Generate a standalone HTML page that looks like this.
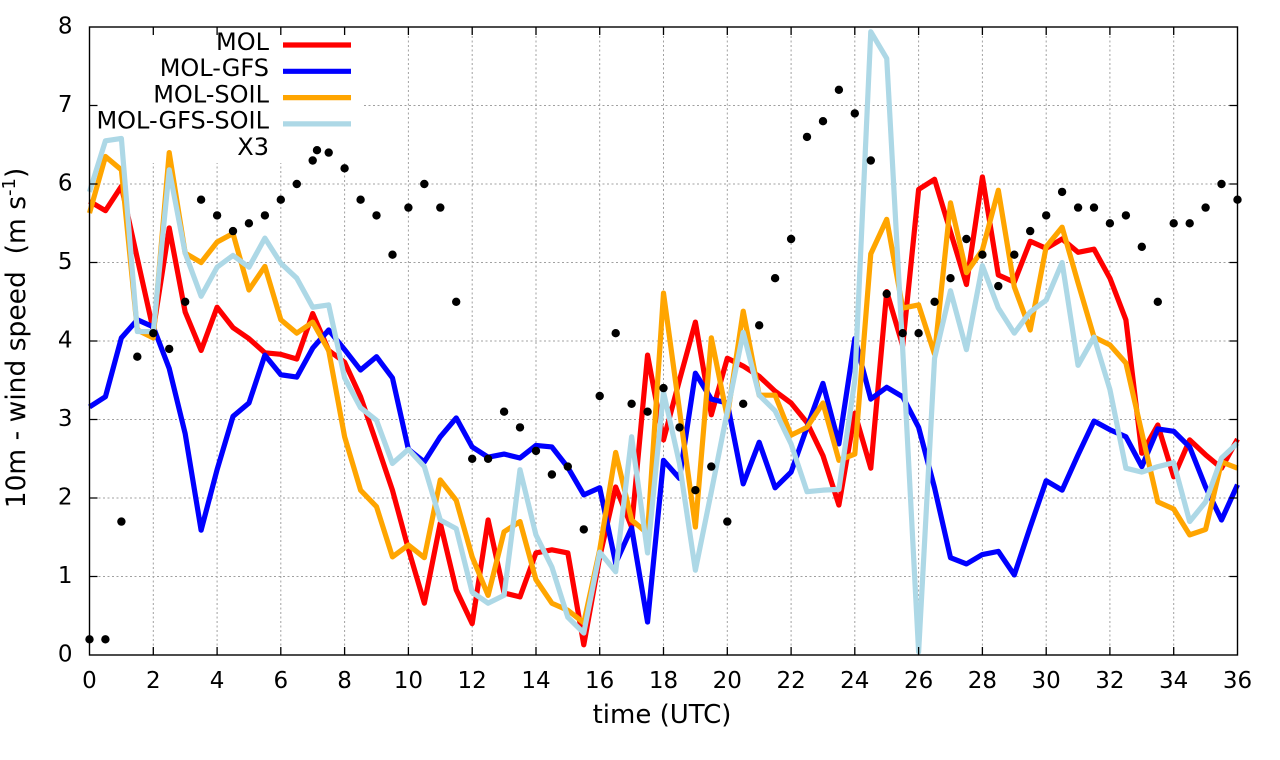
<!DOCTYPE html>
<html>
<head>
<meta charset="utf-8">
<style>
  html, body { margin: 0; padding: 0; background: #ffffff; }
  svg { display: block; }
  text { font-family: "DejaVu Sans", "Liberation Sans", sans-serif; fill: #000; }
</style>
</head>
<body>
<svg width="1280" height="760" viewBox="0 0 1280 760" xmlns="http://www.w3.org/2000/svg">
<rect x="0" y="0" width="1280" height="760" fill="#ffffff"/>
<path fill="none" stroke="#a0a0a0" stroke-width="1" stroke-dasharray="2,2.5" d="M89.5 576.5H1237.5M89.5 498H1237.5M89.5 419.5H1237.5M89.5 341H1237.5M89.5 262.5H1237.5M89.5 184H1237.5M89.5 105.5H1237.5M153.3 27V655M217.1 27V655M280.8 27V655M344.6 27V655M408.4 27V655M472.2 27V655M536 27V655M599.7 27V655M663.5 27V655M727.3 27V655M791.1 27V655M854.8 27V655M918.6 27V655M982.4 27V655M1046.2 27V655M1109.9 27V655M1173.7 27V655"/>
<rect x="91" y="28" width="271" height="135" fill="#ffffff"/>
<g transform="translate(89.5,655) scale(31.889,-78.5)" fill="none" stroke-linejoin="round">
<polyline vector-effect="non-scaling-stroke" stroke="#ff0000" stroke-width="5.2" points="0,5.78 0.5,5.66 1,5.97 1.5,5.05 2,4.14 2.5,5.44 3,4.37 3.5,3.88 4,4.43 4.5,4.17 5,4.03 5.5,3.85 6,3.83 6.5,3.77 7,4.35 7.5,3.88 8,3.73 8.5,3.29 9,2.7 9.5,2.1 10,1.35 10.5,0.66 11,1.68 11.5,0.83 12,0.4 12.5,1.72 13,0.79 13.5,0.74 14,1.3 14.5,1.34 15,1.3 15.5,0.13 16,1.25 16.5,2.14 17,1.63 17.5,3.82 18,2.74 18.5,3.5 19,4.24 19.5,3.06 20,3.78 20.5,3.68 21,3.55 21.5,3.36 22,3.21 22.5,2.96 23,2.54 23.5,1.91 24,3.08 24.5,2.38 25,4.63 25.5,3.94 26,5.93 26.5,6.06 27,5.39 27.5,4.72 28,6.09 28.5,4.84 29,4.75 29.5,5.27 30,5.18 30.5,5.3 31,5.13 31.5,5.17 32,4.8 32.5,4.27 33,2.57 33.5,2.93 34,2.27 34.5,2.74 35,2.55 35.5,2.38 36,2.75"/>
<polyline vector-effect="non-scaling-stroke" stroke="#0000ff" stroke-width="5.2" points="0,3.16 0.5,3.29 1,4.04 1.5,4.27 2,4.18 2.5,3.65 3,2.82 3.5,1.59 4,2.36 4.5,3.04 5,3.21 5.5,3.82 6,3.57 6.5,3.54 7,3.91 7.5,4.14 8,3.89 8.5,3.63 9,3.8 9.5,3.53 10,2.62 10.5,2.46 11,2.78 11.5,3.02 12,2.65 12.5,2.52 13,2.56 13.5,2.51 14,2.67 14.5,2.65 15,2.39 15.5,2.04 16,2.13 16.5,1.17 17,1.62 17.5,0.42 18,2.48 18.5,2.25 19,3.59 19.5,3.26 20,3.21 20.5,2.18 21,2.71 21.5,2.13 22,2.33 22.5,2.9 23,3.46 23.5,2.69 24,4.03 24.5,3.26 25,3.41 25.5,3.29 26,2.9 26.5,2.13 27,1.24 27.5,1.16 28,1.28 28.5,1.32 29,1.02 29.5,1.63 30,2.22 30.5,2.1 31,2.55 31.5,2.98 32,2.87 32.5,2.78 33,2.4 33.5,2.88 34,2.85 34.5,2.65 35,2.14 35.5,1.72 36,2.17"/>
<polyline vector-effect="non-scaling-stroke" stroke="#ffa500" stroke-width="5.2" points="0,5.63 0.5,6.35 1,6.18 1.5,4.14 2,4.04 2.5,6.4 3,5.12 3.5,5.0 4,5.26 4.5,5.37 5,4.65 5.5,4.95 6,4.27 6.5,4.1 7,4.24 7.5,3.88 8,2.78 8.5,2.1 9,1.89 9.5,1.25 10,1.4 10.5,1.24 11,2.23 11.5,1.97 12,1.25 12.5,0.76 13,1.57 13.5,1.7 14,0.96 14.5,0.66 15,0.57 15.5,0.41 16,1.34 16.5,2.58 17,1.72 17.5,1.55 18,4.61 18.5,3.12 19,1.63 19.5,4.04 20,3.03 20.5,4.38 21,3.31 21.5,3.31 22,2.8 22.5,2.9 23,3.21 23.5,2.48 24,2.56 24.5,5.11 25,5.55 25.5,4.42 26,4.46 26.5,3.83 27,5.76 27.5,4.87 28,5.16 28.5,5.92 29,4.69 29.5,4.14 30,5.2 30.5,5.45 31,4.74 31.5,4.05 32,3.95 32.5,3.72 33,2.83 33.5,1.95 34,1.86 34.5,1.53 35,1.6 35.5,2.46 36,2.38"/>
<polyline vector-effect="non-scaling-stroke" stroke="#add8e6" stroke-width="5.2" points="0,5.9 0.5,6.55 1,6.58 1.5,4.12 2,4.12 2.5,6.18 3,5.12 3.5,4.57 4,4.94 4.5,5.09 5,4.94 5.5,5.31 6,4.99 6.5,4.8 7,4.43 7.5,4.46 8,3.53 8.5,3.15 9,2.99 9.5,2.44 10,2.62 10.5,2.4 11,1.72 11.5,1.61 12,0.8 12.5,0.66 13,0.76 13.5,2.36 14,1.53 14.5,1.12 15,0.48 15.5,0.28 16,1.31 16.5,1.06 17,2.78 17.5,1.3 18,3.35 18.5,2.44 19,1.08 19.5,2.08 20,3.1 20.5,4.11 21,3.31 21.5,3.11 22,2.69 22.5,2.08 23,2.1 23.5,2.11 24,3.5 24.5,7.94 25,7.6 25.5,3.9 26,0.04 26.5,3.78 27,4.64 27.5,3.89 28,4.96 28.5,4.42 29,4.1 29.5,4.37 30,4.52 30.5,5.0 31,3.69 31.5,4.05 32,3.38 32.5,2.38 33,2.33 33.5,2.4 34,2.45 34.5,1.7 35,1.95 35.5,2.51 36,2.7"/>
</g>
<path fill="none" stroke="#000" stroke-width="8.4" stroke-linecap="round" d="M89.5 639.3h0M105.4 639.3h0M121.4 521.6h0M137.3 356.7h0M153.3 333.2h0M169.2 348.9h0M185.2 301.8h0M201.1 199.7h0M217.1 215.4h0M233 231.1h0M248.9 223.3h0M264.9 215.4h0M280.8 199.7h0M296.8 184h0M312.7 160.5h0M328.7 152.6h0M344.6 168.3h0M360.6 199.7h0M376.5 215.4h0M392.5 254.7h0M408.4 207.6h0M424.3 184h0M440.3 207.6h0M456.2 301.8h0M472.2 458.8h0M488.1 458.8h0M504.1 411.7h0M520 427.4h0M536 450.9h0M551.9 474.5h0M567.8 466.6h0M583.8 529.4h0M599.7 396h0M615.7 333.2h0M631.6 403.8h0M647.6 411.7h0M663.5 388.1h0M679.5 427.4h0M695.4 490.2h0M711.3 466.6h0M727.3 521.6h0M743.2 403.8h0M759.2 325.3h0M775.1 278.2h0M791.1 239h0M807 136.9h0M823 121.2h0M838.9 89.8h0M854.8 113.4h0M870.8 160.5h0M886.7 293.9h0M902.7 333.2h0M918.6 333.2h0M934.6 301.8h0M950.5 278.2h0M966.4 239h0M982.4 254.7h0M998.3 286.1h0M1014.3 254.7h0M1030.2 231.1h0M1046.2 215.4h0M1062.1 191.9h0M1078.1 207.6h0M1094 207.6h0M1109.9 223.3h0M1125.9 215.4h0M1141.8 246.8h0M1157.8 301.8h0M1173.7 223.3h0M1189.7 223.3h0M1205.6 207.6h0M1221.5 184h0M1237.5 199.7h0M317 150.2h0"/>
<g font-size="24" text-anchor="end">
<text x="269" y="49.8">MOL</text>
<text x="269" y="76.1">MOL-GFS</text>
<text x="269" y="102.4">MOL-SOIL</text>
<text x="269" y="128.7">MOL-GFS-SOIL</text>
<text x="269" y="155">X3</text>
</g>
<g stroke-width="5.2">
<line x1="283" y1="45" x2="351" y2="45" stroke="#ff0000"/>
<line x1="283" y1="71.3" x2="351" y2="71.3" stroke="#0000ff"/>
<line x1="283" y1="97.6" x2="351" y2="97.6" stroke="#ffa500"/>
<line x1="283" y1="123.9" x2="351" y2="123.9" stroke="#add8e6"/>
</g>
<path fill="none" stroke="#000" stroke-width="1.3" d="M89.5 576.5h8M89.5 498h8M89.5 419.5h8M89.5 341h8M89.5 262.5h8M89.5 184h8M89.5 105.5h8M1237.5 576.5h-8M1237.5 498h-8M1237.5 419.5h-8M1237.5 341h-8M1237.5 262.5h-8M1237.5 184h-8M1237.5 105.5h-8M153.3 655v-8M217.1 655v-8M280.8 655v-8M344.6 655v-8M408.4 655v-8M472.2 655v-8M536 655v-8M599.7 655v-8M663.5 655v-8M727.3 655v-8M791.1 655v-8M854.8 655v-8M918.6 655v-8M982.4 655v-8M1046.2 655v-8M1109.9 655v-8M1173.7 655v-8M153.3 27v8M217.1 27v8M280.8 27v8M344.6 27v8M408.4 27v8M472.2 27v8M536 27v8M599.7 27v8M663.5 27v8M727.3 27v8M791.1 27v8M854.8 27v8M918.6 27v8M982.4 27v8M1046.2 27v8M1109.9 27v8M1173.7 27v8"/>
<rect x="89.5" y="27" width="1148" height="628" fill="none" stroke="#000" stroke-width="1.4"/>
<g font-size="23" text-anchor="end">
<text x="72.5" y="661.3">0</text>
<text x="72.5" y="582.8">1</text>
<text x="72.5" y="504.3">2</text>
<text x="72.5" y="425.8">3</text>
<text x="72.5" y="347.3">4</text>
<text x="72.5" y="268.8">5</text>
<text x="72.5" y="190.3">6</text>
<text x="72.5" y="111.8">7</text>
<text x="72.5" y="33.3">8</text>
</g>
<g font-size="23" text-anchor="middle">
<text x="89.5" y="688">0</text>
<text x="153.3" y="688">2</text>
<text x="217.1" y="688">4</text>
<text x="280.8" y="688">6</text>
<text x="344.6" y="688">8</text>
<text x="408.4" y="688">10</text>
<text x="472.2" y="688">12</text>
<text x="536" y="688">14</text>
<text x="599.7" y="688">16</text>
<text x="663.5" y="688">18</text>
<text x="727.3" y="688">20</text>
<text x="791.1" y="688">22</text>
<text x="854.8" y="688">24</text>
<text x="918.6" y="688">26</text>
<text x="982.4" y="688">28</text>
<text x="1046.2" y="688">30</text>
<text x="1109.9" y="688">32</text>
<text x="1173.7" y="688">34</text>
<text x="1237.5" y="688">36</text>
</g>
<text x="662" y="723" font-size="26" text-anchor="middle">time (UTC)</text>
<text transform="translate(25,338) rotate(-90)" font-size="26.5" text-anchor="middle" style="white-space:pre">10m - wind speed  (m s<tspan dy="-10" font-size="18">-1</tspan><tspan dy="10">)</tspan></text>
</svg>
</body>
</html>
